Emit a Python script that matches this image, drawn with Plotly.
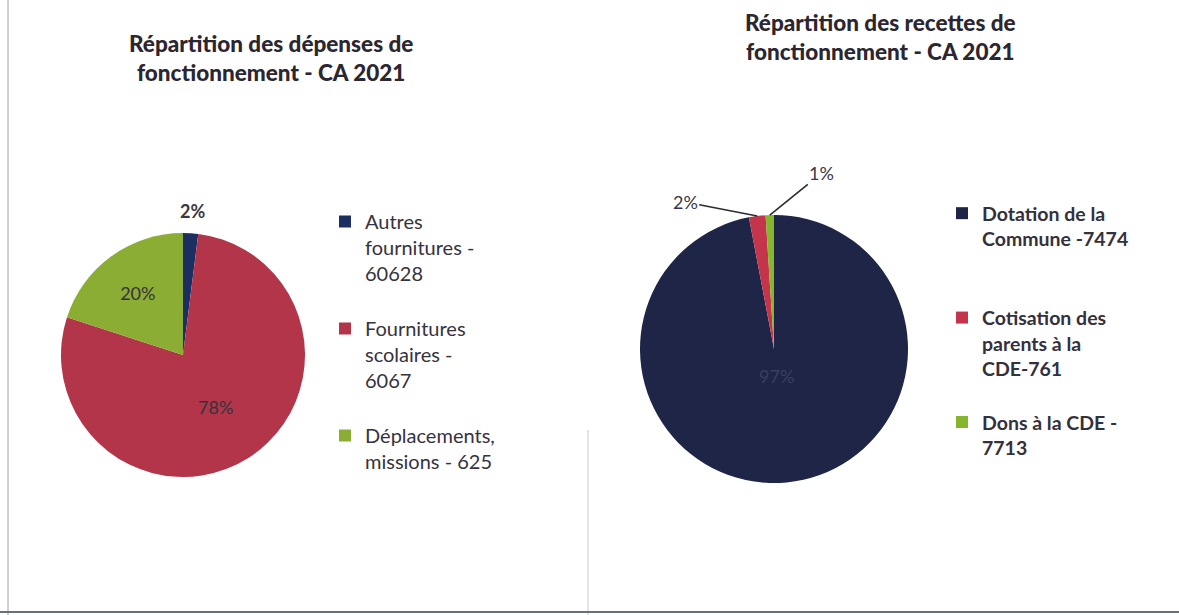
import math
import plotly.graph_objects as go

# ---- data ----
dep_labels = ["Autres<br>fournitures -<br>60628", "Fournitures<br>scolaires -<br>6067", "Déplacements,<br>missions - 625"]
dep_values = [2, 78, 20]
dep_colors = ["#1d2f62", "#b3354a", "#8cad34"]

rec_labels = ["Dotation de la<br>Commune -7474", "Cotisation des<br>parents à la<br>CDE-761", "Dons à la CDE -<br>7713"]
rec_values = [97, 2, 1]
rec_colors = ["#1f2547", "#c4354c", "#86b52e"]

title_left = "Répartition des dépenses de<br>fonctionnement - CA 2021"
title_right = "Répartition des recettes de<br>fonctionnement - CA 2021"

W, H = 1179, 615
FONT = "Lato"
TXT = "#3b3743"


def pad_lines(labels, n=4):
    # Excel spaces legend entries evenly; emulate with blank trailing lines
    out = []
    for i, s in enumerate(labels):
        k = s.count("<br>") + 1
        extra = max(0, n - k) if i < len(labels) - 1 else 0
        out.append(s + "<br> " * extra)
    return out


def mid_angles(values):
    tot = float(sum(values))
    acc, res = 0.0, []
    for v in values:
        res.append((acc + v / 2) / tot * 360.0)
        acc += v
    return res


# pie geometry (pixels): centre and radius
L_CX, L_CY, L_R = 183, 355, 122
R_CX, R_CY, R_R = 774, 349, 134


def dom(cx, cy, r):
    return dict(x=[(cx - r) / W, (cx + r) / W], y=[1 - (cy + r) / H, 1 - (cy - r) / H])


def pt(cx, cy, r, ang):
    a = math.radians(ang)
    return (cx + r * math.sin(a)) / W, 1 - (cy - r * math.cos(a)) / H


fig = go.Figure()

fig.add_trace(go.Pie(
    labels=pad_lines(dep_labels), values=dep_values, sort=False, direction="clockwise", rotation=0,
    marker=dict(colors=dep_colors, line=dict(width=0)),
    texttemplate="%{percent:.0%}",
    textposition=["none", "inside", "inside"],
    insidetextorientation="horizontal",
    textfont=dict(family=FONT, size=18, color="#35323c"),
    domain=dom(L_CX, L_CY, L_R),
    legend="legend", hovertemplate="%{label}: %{percent}<extra></extra>",
))

fig.add_trace(go.Pie(
    labels=pad_lines(rec_labels), values=rec_values, sort=False, direction="clockwise", rotation=0,
    marker=dict(colors=rec_colors, line=dict(width=0)),
    texttemplate="%{percent:.0%}",
    textposition="none",
    domain=dom(R_CX, R_CY, R_R),
    legend="legend2", hovertemplate="%{label}: %{percent}<extra></extra>",
))

title_font = dict(family=FONT, size=22.5, color="#2b2630", weight=900)
annotations = [
    dict(text=title_left, x=271 / W, y=1 - 58 / H, xanchor="center", yanchor="middle",
         showarrow=False, font=title_font),
    dict(text=title_right, x=880 / W, y=1 - 37 / H, xanchor="center", yanchor="middle",
         showarrow=False, font=title_font),
]

tot_dep = sum(dep_values)
lm = mid_angles(dep_values)
x0, y0 = pt(L_CX, L_CY, L_R + 22, lm[0])
annotations.append(dict(text=f"<b>{dep_values[0] / tot_dep:.0%}</b>", x=x0, y=y0, showarrow=False,
                        xanchor="center", yanchor="middle", font=dict(family=FONT, size=18, color=TXT)))

tot_rec = sum(rec_values)
rm = mid_angles(rec_values)
# large slice label, near the centre along its bisector
xb, yb = pt(R_CX, R_CY, R_R * 0.2, rm[0])
annotations.append(dict(text=f"{rec_values[0] / tot_rec:.0%}", x=xb, y=yb, showarrow=False,
                        font=dict(family=FONT, size=18, color="#3a3f5e")))
# small slices: outside labels with leader lines
offsets = [None, (-72, -14), (52, -42)]
for i in (1, 2):
    xt, yt = pt(R_CX, R_CY, R_R, rm[i])
    annotations.append(dict(text=f"{rec_values[i] / tot_rec:.0%}", x=xt, y=yt, ax=offsets[i][0], ay=offsets[i][1],
                            showarrow=True, arrowhead=0, arrowwidth=1.6, arrowcolor="#2d2b33", standoff=0,
                            font=dict(family=FONT, size=18, color=TXT)))

for a in annotations:
    a.setdefault("xref", "paper")
    a.setdefault("yref", "paper")

legend_common = dict(bgcolor="rgba(0,0,0,0)", tracegroupgap=0, itemwidth=30, valign="top",
                     xanchor="left", yanchor="top", itemclick=False)

fig.update_layout(
    width=W, height=H,
    margin=dict(l=0, r=0, t=0, b=0),
    paper_bgcolor="white", plot_bgcolor="white",
    legend=dict(x=(366 - 41) / W, y=1 - 202 / H, font=dict(family=FONT, size=20, color="#36323e"), **legend_common),
    legend2=dict(x=(983 - 41) / W, y=1 - 194 / H,
                 font=dict(family=FONT, size=19.5, color="#34303c", weight="bold"), **legend_common),
    annotations=annotations,
    shapes=[
        dict(type="line", xref="paper", yref="paper", x0=8 / W, x1=8 / W, y0=0, y1=1,
             line=dict(color="#9aa3b5", width=1)),
        dict(type="line", xref="paper", yref="paper", x0=588 / W, x1=588 / W, y0=0, y1=1 - 430 / H,
             line=dict(color="#c5cbd8", width=1)),
        dict(type="line", xref="paper", yref="paper", x0=0, x1=1, y0=3 / H, y1=3 / H,
             line=dict(color="#6a6f7a", width=2)),
    ],
)

fig.write_html("out.html", config={"displayModeBar": False},
               post_script="document.body.style.margin='0px';")
